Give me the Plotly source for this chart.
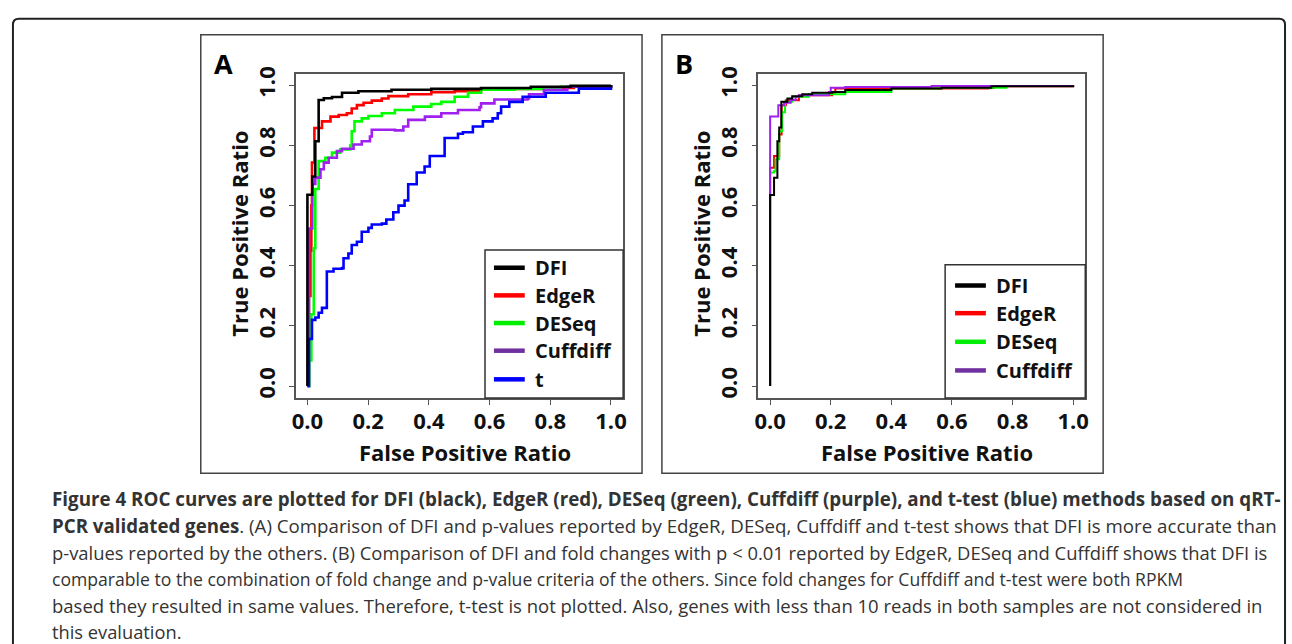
import plotly.graph_objects as go

W, H = 1292, 644

# ---------------- data: panel A (p-values) ----------------
dfiA_x = [0, 0, 0.016, 0.026, 0.037, 0.054, 0.081, 0.114, 0.168, 0.277, 0.408, 0.572, 0.736, 0.867, 1.0]
dfiA_y = [0, 0.636, 0.697, 0.814, 0.951, 0.957, 0.961, 0.975, 0.980, 0.985, 0.988, 0.991, 0.995, 0.998, 1.0]

edgeA_x = [0, 0.002, 0.005, 0.010, 0.013, 0.015, 0.023, 0.048, 0.076, 0.103, 0.130, 0.146, 0.163, 0.185, 0.212,
           0.245, 0.267, 0.332, 0.408, 0.485, 0.572, 0.681, 0.790, 0.878, 1.0]
edgeA_y = [0, 0.15, 0.30, 0.45, 0.60, 0.743, 0.858, 0.880, 0.896, 0.901, 0.907, 0.923, 0.934, 0.942, 0.949,
           0.956, 0.964, 0.970, 0.977, 0.980, 0.985, 0.988, 0.991, 0.995, 1.0]

deseqA_x = [0, 0.002, 0.0065, 0.013, 0.021, 0.026, 0.037, 0.059, 0.081, 0.108, 0.141, 0.146, 0.155, 0.179, 0.201,
            0.245, 0.288, 0.349, 0.408, 0.441, 0.485, 0.529, 0.572, 0.681, 0.834, 1.0]
deseqA_y = [0, 0.0, 0.085, 0.239, 0.458, 0.655, 0.748, 0.759, 0.776, 0.787, 0.800, 0.847, 0.880, 0.890, 0.898,
            0.907, 0.918, 0.929, 0.938, 0.945, 0.962, 0.975, 0.985, 0.988, 0.995, 1.0]

cuffA_x = [0, 0.005, 0.016, 0.026, 0.043, 0.054, 0.070, 0.097, 0.114, 0.152, 0.179, 0.206, 0.212, 0.288, 0.316,
           0.332, 0.387, 0.441, 0.496, 0.567, 0.572, 0.616, 0.725, 0.730, 0.779, 0.856, 1.0]
cuffA_y = [0, 0.524, 0.672, 0.693, 0.721, 0.743, 0.759, 0.781, 0.789, 0.803, 0.814, 0.830, 0.852, 0.850, 0.863,
           0.885, 0.896, 0.907, 0.918, 0.927, 0.940, 0.953, 0.956, 0.970, 0.985, 0.995, 1.0]

tA_x = [0, 0.005, 0.015, 0.026, 0.037, 0.048, 0.064, 0.064, 0.086, 0.114, 0.119, 0.135, 0.146, 0.163, 0.179, 0.201,
        0.212, 0.245, 0.260, 0.283, 0.300, 0.320, 0.332, 0.360, 0.386, 0.403, 0.452, 0.452, 0.496, 0.512, 0.545,
        0.578, 0.610, 0.627, 0.638, 0.665, 0.709, 0.785, 0.894, 1.0]
tA_y = [0, 0.157, 0.220, 0.228, 0.244, 0.260, 0.266, 0.381, 0.390, 0.392, 0.425, 0.441, 0.469, 0.480, 0.513, 0.526,
        0.537, 0.540, 0.554, 0.578, 0.600, 0.617, 0.671, 0.710, 0.730, 0.765, 0.781, 0.825, 0.839, 0.844, 0.863,
        0.880, 0.890, 0.907, 0.929, 0.945, 0.962, 0.975, 0.989, 1.0]

# ---------------- data: panel B (fold changes, p < 0.01) ----------------
dfiB_x = [0, 0, 0.013, 0.024, 0.030, 0.037, 0.057, 0.073, 0.106, 0.139, 0.205, 0.248, 0.400, 0.566, 0.730, 1.0]
dfiB_y = [0, 0.635, 0.693, 0.814, 0.860, 0.945, 0.956, 0.964, 0.970, 0.975, 0.978, 0.984, 0.989, 0.992, 0.997, 1.0]

edgeB_x = [0, 0, 0.013, 0.030, 0.038, 0.052, 0.095, 0.205, 0.215, 0.720, 0.740, 1.0]
edgeB_y = [0, 0.726, 0.765, 0.836, 0.934, 0.950, 0.967, 0.973, 0.989, 0.992, 0.997, 1.0]

deseqB_x = [0, 0, 0.013, 0.018, 0.030, 0.040, 0.049, 0.073, 0.128, 0.248, 0.400, 0.560, 0.780, 1.0]
deseqB_y = [0, 0.710, 0.715, 0.754, 0.847, 0.910, 0.945, 0.962, 0.970, 0.978, 0.989, 0.992, 0.998, 1.0]

cuffB_x = [0, 0, 0, 0.027, 0.027, 0.046, 0.068, 0.084, 0.095, 0.194, 0.200, 0.248, 0.533, 1.0]
cuffB_y = [0, 0.640, 0.896, 0.901, 0.934, 0.942, 0.951, 0.962, 0.967, 0.978, 0.992, 0.994, 0.998, 1.0]

tick_vals = [0, 0.2, 0.4, 0.6, 0.8, 1.0]
tick_text = ["0.0", "0.2", "0.4", "0.6", "0.8", "1.0"]

legendA_names = ["DFI", "EdgeR", "DESeq", "Cuffdiff", "t"]
legendA_colors = ["#000000", "#FF0000", "#00EE00", "#7030A0", "#0000FF"]
legendB_names = ["DFI", "EdgeR", "DESeq", "Cuffdiff"]
legendB_colors = ["#000000", "#FF0000", "#00EE00", "#7030A0"]

caption_lines = [
    "<b>Figure 4 ROC curves are plotted for DFI (black), EdgeR (red), DESeq (green), Cuffdiff (purple), and t-test (blue) methods based on qRT-</b>",
    "<b>PCR validated genes</b>. (A) Comparison of DFI and p-values reported by EdgeR, DESeq, Cuffdiff and t-test shows that DFI is more accurate than",
    "p-values reported by the others. (B) Comparison of DFI and fold changes with p &lt; 0.01 reported by EdgeR, DESeq and Cuffdiff shows that DFI is",
    "comparable to the combination of fold change and p-value criteria of the others. Since fold changes for Cuffdiff and t-test were both RPKM",
    "based they resulted in same values. Therefore, t-test is not plotted. Also, genes with less than 10 reads in both samples are not considered in",
    "this evaluation.",
]
caption_sizes = [18.8, 18.7, 18.4, 17.6, 18.5, 18.3]

# ---------------- styles ----------------
C_BLACK, C_RED, C_GREEN, C_PURPLE, C_BLUE = "#000000", "#FF0000", "#00FF00", "#A020F0", "#0000FF"
FONT = "Open Sans"


def px(x):
    return x / W


def py(y):
    return 1 - y / H


fig = go.Figure()

# Panel A traces (order so that DFI is on top)
for xs, ys, col in [(edgeA_x, edgeA_y, C_RED), (deseqA_x, deseqA_y, C_GREEN), (cuffA_x, cuffA_y, C_PURPLE),
                    (tA_x, tA_y, C_BLUE), (dfiA_x, dfiA_y, C_BLACK)]:
    fig.add_trace(go.Scatter(x=xs, y=ys, mode="lines", line=dict(color=col, width=2.6, shape="hv"),
                             xaxis="x", yaxis="y", showlegend=False, hoverinfo="skip"))

# Panel B traces
for xs, ys, col in [(edgeB_x, edgeB_y, C_RED), (deseqB_x, deseqB_y, C_GREEN), (cuffB_x, cuffB_y, C_PURPLE),
                    (dfiB_x, dfiB_y, C_BLACK)]:
    fig.add_trace(go.Scatter(x=xs, y=ys, mode="lines", line=dict(color=col, width=2.0, shape="hv"),
                             xaxis="x2", yaxis="y2", showlegend=False, hoverinfo="skip"))

axis_common = dict(
    showgrid=False, zeroline=False, showline=True, mirror=True, linecolor="#555555", linewidth=1.5,
    ticks="outside", ticklen=5, tickwidth=1.3, tickcolor="#555555",
    tickvals=tick_vals, ticktext=tick_text,
    tickfont=dict(family=FONT, size=22, color="#111111", weight="bold"),
)

ydom = [py(395), py(67)]
fig.update_layout(
    width=W, height=H, margin=dict(l=0, r=0, t=0, b=0),
    paper_bgcolor="white", plot_bgcolor="white", showlegend=False,
    xaxis=dict(domain=[px(294), px(623)], range=[-0.037, 1.040], anchor="y", ticklabelstandoff=-2, **axis_common),
    yaxis=dict(domain=ydom, range=[-0.040, 1.037], anchor="x", tickangle=-90, ticklabelstandoff=6, **axis_common),
    xaxis2=dict(domain=[px(759), px(1088)], range=[-0.039, 1.040], anchor="y2", ticklabelstandoff=-2, **axis_common),
    yaxis2=dict(domain=ydom, range=[-0.040, 1.037], anchor="x2", tickangle=-90, ticklabelstandoff=6, **axis_common),
)

shapes = []
annotations = []

# outer rounded frame
r = 6
x0f, y0f, x1f, y1f = 9, 11, 1289, 700
path = (f"M {px(x0f)},{py(y1f)} L {px(x0f)},{py(y0f + r)} Q {px(x0f)},{py(y0f)} {px(x0f + r)},{py(y0f)} "
        f"L {px(x1f - r)},{py(y0f)} Q {px(x1f)},{py(y0f)} {px(x1f)},{py(y0f + r)} L {px(x1f)},{py(y1f)}")
shapes.append(dict(type="path", xref="paper", yref="paper", path=path, line=dict(color="#222222", width=2)))

# panel frames
for (a, b, c, d) in [(198, 27, 642, 471), (662, 27, 1106, 471)]:
    shapes.append(dict(type="rect", xref="paper", yref="paper", x0=px(a), y0=py(d), x1=px(c), y1=py(b),
                       line=dict(color="#444444", width=1.5)))

# panel letters
for lx, letter in [(221, "A"), (684, "B")]:
    annotations.append(dict(x=px(lx), y=py(56), xref="paper", yref="paper", text=f"<b>{letter}</b>",
                            showarrow=False, xanchor="center", yanchor="middle",
                            font=dict(family=FONT, size=27, color="#000000")))

# axis titles
for cx in [464, 929]:
    annotations.append(dict(x=px(cx), y=py(450), xref="paper", yref="paper", text="<b>False Positive Ratio</b>",
                            showarrow=False, xanchor="center", yanchor="middle",
                            font=dict(family=FONT, size=22, color="#111111")))
for cx in [237, 702]:
    annotations.append(dict(x=px(cx), y=py(229), xref="paper", yref="paper", text="<b>True Positive Ratio</b>",
                            showarrow=False, xanchor="center", yanchor="middle", textangle=-90,
                            font=dict(family=FONT, size=22, color="#111111")))


# legends (drawn as boxes with line samples)
def add_legend(box, rows_y, names, colors, lx0, lx1, tx):
    a, b, c, d = box
    shapes.append(dict(type="rect", xref="paper", yref="paper", x0=px(a), y0=py(d), x1=px(c), y1=py(b),
                       line=dict(color="#333333", width=1.5), fillcolor="white", layer="above"))
    for yy, nm, col in zip(rows_y, names, colors):
        shapes.append(dict(type="line", xref="paper", yref="paper", x0=px(lx0), x1=px(lx1), y0=py(yy), y1=py(yy),
                           line=dict(color=col, width=4.5), layer="above"))
        annotations.append(dict(x=px(tx), y=py(yy), xref="paper", yref="paper", text=f"<b>{nm}</b>",
                                showarrow=False, xanchor="left", yanchor="middle",
                                font=dict(family=FONT, size=20, color="#111111")))


add_legend((484, 245, 623, 395), [263, 291, 319, 347, 376], legendA_names, legendA_colors, 493, 524, 532)
add_legend((947, 260, 1088, 395), [281, 309, 338, 367], legendB_names, legendB_colors, 957, 988, 996)

# caption
for i, (line, fs) in enumerate(zip(caption_lines, caption_sizes)):
    annotations.append(dict(x=px(46), y=py(497.5 + 26.8 * i), xref="paper", yref="paper", text=line,
                            showarrow=False, xanchor="left", yanchor="middle", align="left",
                            font=dict(family=FONT, size=fs, color="#333333")))

fig.update_layout(shapes=shapes, annotations=annotations)
fig.write_html("out.html", config={"displayModeBar": False},
               post_script="document.body.style.margin='0px';")
